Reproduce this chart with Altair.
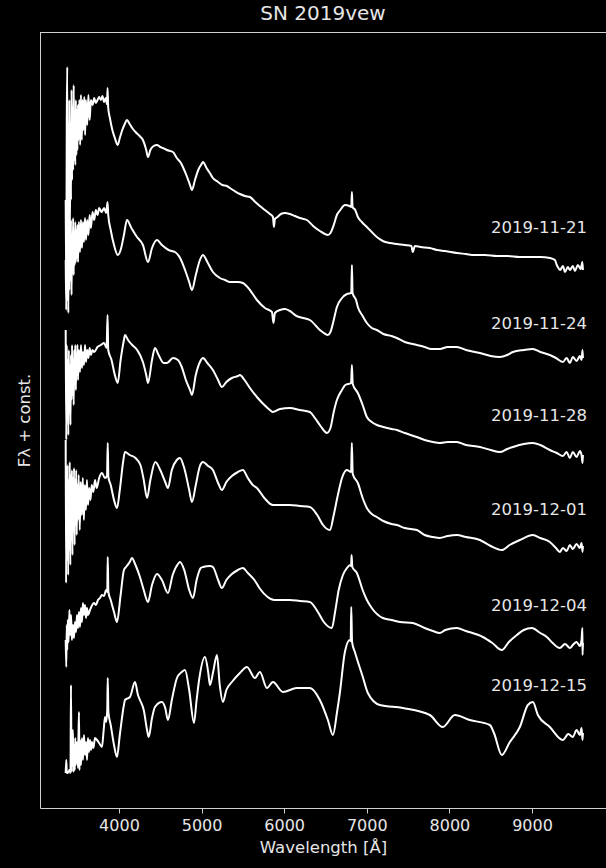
import altair as alt
import pandas as pd

# ---- data (wavelength in Angstrom, normalised flux before offset) ----
dates = ["2019-11-21", "2019-11-24", "2019-11-28", "2019-12-01", "2019-12-04", "2019-12-15"]
offsets = [5, 4, 3, 2, 1, 0]
label_wave = [9666, 9666, 9666, 9666, 9666, 9666]
label_flux = [5.80, 4.84, 3.92, 2.98, 2.02, 1.22]
x_ticks = [4000, 5000, 6000, 7000, 8000, 9000]

spec_1121 = [
    (3355, 1.08), (3362, 0.18), (3368, 1.88), (3374, 2.41), (3380, 0.48), (3387, 1.58), (3393, 0.68),
    (3400, 2.08), (3406, 0.78), (3413, 1.78), (3419, 1.08), (3426, 2.18), (3432, 1.28), (3439, 1.98),
    (3445, 1.38), (3452, 2.23), (3458, 1.48), (3465, 1.88), (3471, 1.43), (3478, 2.08), (3484, 1.53),
    (3491, 1.98), (3497, 1.58), (3504, 2.03), (3510, 1.68), (3520, 2.08), (3530, 1.63), (3540, 2.13),
    (3550, 1.68), (3560, 2.08), (3570, 1.78), (3580, 2.11), (3590, 1.73), (3600, 2.08), (3615, 1.83),
    (3630, 2.13), (3645, 1.88), (3660, 2.08), (3680, 2.03), (3700, 2.10), (3720, 2.05), (3740, 2.08),
    (3760, 2.11), (3780, 2.08), (3800, 2.12), (3820, 2.06), (3840, 2.10), (3855, 2.04), (3862, 2.20),
    (3870, 2.00), (3890, 1.90), (3920, 1.78), (3950, 1.70), (3985, 1.63), (4010, 1.70), (4040, 1.78),
    (4070, 1.84), (4097, 1.88), (4130, 1.84), (4160, 1.80), (4200, 1.76), (4250, 1.72), (4290, 1.68),
    (4330, 1.58), (4351, 1.51), (4380, 1.58), (4420, 1.62), (4460, 1.63), (4500, 1.61), (4530, 1.60),
    (4580, 1.58), (4654, 1.56), (4700, 1.50), (4750, 1.45), (4774, 1.41), (4820, 1.32), (4860, 1.23),
    (4883, 1.18), (4920, 1.28), (4960, 1.38), (5000, 1.44), (5017, 1.46), (5060, 1.40), (5100, 1.35),
    (5137, 1.30), (5200, 1.26), (5250, 1.23), (5307, 1.22), (5343, 1.20), (5400, 1.17), (5464, 1.14),
    (5525, 1.12), (5585, 1.11), (5650, 1.06), (5706, 1.02), (5767, 0.98), (5827, 0.94), (5864, 0.91),
    (5876, 0.81), (5888, 0.89), (5920, 0.91), (5960, 0.94), (6009, 0.95), (6069, 0.94), (6130, 0.92),
    (6190, 0.90), (6275, 0.88), (6350, 0.82), (6432, 0.77), (6493, 0.74), (6529, 0.73), (6560, 0.75),
    (6600, 0.83), (6638, 0.93), (6680, 0.98), (6735, 1.03), (6790, 1.02), (6812, 1.01), (6820, 1.16),
    (6828, 1.01), (6860, 0.98), (6892, 0.91), (6940, 0.86), (7001, 0.81), (7060, 0.76), (7122, 0.71),
    (7194, 0.67), (7279, 0.65), (7364, 0.64), (7460, 0.63), (7540, 0.62), (7557, 0.56), (7582, 0.62),
    (7650, 0.61), (7763, 0.60), (7850, 0.58), (7950, 0.57), (8090, 0.55), (8200, 0.54), (8300, 0.53),
    (8430, 0.53), (8575, 0.52), (8700, 0.52), (8850, 0.51), (8974, 0.51), (9100, 0.51), (9216, 0.50),
    (9277, 0.48), (9300, 0.43), (9313, 0.41), (9340, 0.38), (9374, 0.42), (9400, 0.36), (9434, 0.41),
    (9460, 0.38), (9494, 0.42), (9520, 0.37), (9555, 0.43), (9590, 0.39), (9610, 0.46), (9617, 0.38),
]

spec_1124 = [
    (3355, 1.48), (3362, 0.98), (3368, 1.93), (3374, 1.08), (3380, 1.68), (3387, 0.95), (3393, 1.83),
    (3400, 1.18), (3406, 1.78), (3413, 1.28), (3419, 1.88), (3426, 1.13), (3432, 1.73), (3439, 1.38),
    (3445, 1.90), (3452, 1.33), (3458, 1.76), (3465, 1.43), (3471, 1.86), (3478, 1.46), (3484, 1.78),
    (3491, 1.50), (3497, 1.83), (3504, 1.46), (3515, 1.86), (3528, 1.56), (3540, 1.88), (3552, 1.60),
    (3564, 1.86), (3576, 1.66), (3589, 1.90), (3601, 1.68), (3615, 1.88), (3630, 1.73), (3645, 1.93),
    (3660, 1.80), (3680, 1.96), (3700, 1.88), (3720, 1.98), (3740, 1.93), (3760, 2.00), (3790, 1.96),
    (3820, 2.00), (3845, 1.95), (3862, 2.06), (3870, 1.93), (3900, 1.78), (3940, 1.63), (3985, 1.53),
    (4020, 1.58), (4060, 1.73), (4097, 1.88), (4150, 1.80), (4218, 1.71), (4290, 1.63), (4351, 1.46),
    (4400, 1.60), (4460, 1.68), (4520, 1.63), (4600, 1.58), (4678, 1.56), (4740, 1.50), (4800, 1.38),
    (4850, 1.26), (4883, 1.18), (4930, 1.33), (4980, 1.48), (5017, 1.53), (5070, 1.46), (5137, 1.36),
    (5222, 1.30), (5283, 1.28), (5343, 1.26), (5440, 1.26), (5500, 1.25), (5585, 1.18), (5670, 1.08),
    (5767, 1.00), (5852, 0.96), (5870, 0.85), (5888, 0.95), (5950, 0.98), (6009, 0.99), (6069, 0.97),
    (6150, 0.92), (6230, 0.90), (6311, 0.88), (6432, 0.78), (6500, 0.74), (6529, 0.73), (6560, 0.76),
    (6600, 0.88), (6638, 1.01), (6700, 1.10), (6760, 1.14), (6812, 1.15), (6820, 1.43), (6828, 1.15),
    (6870, 1.08), (6892, 1.01), (6950, 0.92), (7001, 0.85), (7060, 0.80), (7122, 0.78), (7200, 0.74),
    (7300, 0.72), (7364, 0.70), (7460, 0.66), (7606, 0.63), (7700, 0.61), (7780, 0.59), (7884, 0.59),
    (7980, 0.61), (8090, 0.61), (8200, 0.58), (8369, 0.55), (8500, 0.52), (8611, 0.51), (8700, 0.53),
    (8769, 0.56), (8900, 0.58), (9011, 0.59), (9100, 0.56), (9216, 0.53), (9290, 0.50), (9374, 0.46),
    (9420, 0.50), (9458, 0.45), (9494, 0.51), (9540, 0.47), (9580, 0.52), (9600, 0.48), (9612, 0.58),
    (9617, 0.50),
]

spec_1128 = [
    (3355, 1.78), (3362, 0.68), (3368, 1.63), (3374, 0.88), (3380, 1.48), (3387, 0.73), (3393, 1.58),
    (3400, 0.98), (3406, 1.43), (3413, 0.83), (3419, 1.53), (3426, 1.08), (3432, 1.63), (3439, 1.13),
    (3445, 1.48), (3452, 1.03), (3458, 1.58), (3465, 1.23), (3471, 1.63), (3478, 1.18), (3484, 1.53),
    (3491, 1.33), (3497, 1.63), (3504, 1.28), (3515, 1.58), (3528, 1.36), (3540, 1.63), (3552, 1.40),
    (3564, 1.56), (3576, 1.43), (3589, 1.63), (3601, 1.46), (3615, 1.58), (3630, 1.50), (3645, 1.60),
    (3660, 1.53), (3680, 1.58), (3700, 1.56), (3740, 1.61), (3780, 1.63), (3820, 1.65), (3850, 1.60),
    (3862, 1.93), (3870, 1.58), (3910, 1.48), (3950, 1.33), (3985, 1.25), (4020, 1.48), (4060, 1.68),
    (4073, 1.73), (4110, 1.68), (4160, 1.63), (4220, 1.58), (4290, 1.46), (4330, 1.33), (4351, 1.25),
    (4400, 1.48), (4436, 1.60), (4480, 1.53), (4540, 1.45), (4581, 1.45), (4654, 1.50), (4714, 1.48),
    (4760, 1.41), (4810, 1.28), (4860, 1.18), (4883, 1.13), (4930, 1.33), (4980, 1.46), (5017, 1.50),
    (5070, 1.45), (5137, 1.38), (5200, 1.28), (5246, 1.21), (5300, 1.26), (5367, 1.30), (5440, 1.32),
    (5464, 1.33), (5520, 1.28), (5585, 1.20), (5670, 1.11), (5760, 1.03), (5827, 0.98), (5864, 0.96),
    (5950, 0.99), (6069, 1.00), (6190, 0.98), (6311, 0.96), (6372, 0.90), (6440, 0.82), (6517, 0.75),
    (6560, 0.80), (6600, 0.96), (6638, 1.08), (6700, 1.18), (6740, 1.23), (6810, 1.25), (6820, 1.43),
    (6830, 1.24), (6892, 1.15), (6950, 1.03), (7001, 0.91), (7060, 0.86), (7122, 0.83), (7200, 0.81),
    (7300, 0.79), (7364, 0.78), (7460, 0.75), (7606, 0.71), (7700, 0.68), (7800, 0.66), (7884, 0.65),
    (7980, 0.66), (8090, 0.66), (8200, 0.63), (8369, 0.61), (8500, 0.58), (8611, 0.56), (8700, 0.59),
    (8769, 0.61), (8900, 0.64), (9011, 0.65), (9100, 0.63), (9216, 0.58), (9300, 0.55), (9374, 0.52),
    (9420, 0.56), (9458, 0.50), (9494, 0.56), (9540, 0.51), (9580, 0.57), (9600, 0.53), (9612, 0.45),
    (9617, 0.53),
]

spec_1201 = [
    (3355, 1.68), (3360, 0.25), (3366, 1.38), (3372, 0.48), (3378, 1.43), (3385, 0.33), (3391, 1.28),
    (3398, 0.58), (3404, 1.46), (3411, 0.43), (3417, 1.33), (3424, 0.68), (3430, 1.38), (3437, 0.53),
    (3443, 1.30), (3450, 0.78), (3456, 1.40), (3463, 0.63), (3469, 1.28), (3476, 0.83), (3482, 1.38),
    (3489, 0.73), (3495, 1.23), (3502, 0.88), (3512, 1.33), (3525, 0.78), (3537, 1.26), (3550, 0.93),
    (3562, 1.30), (3575, 0.88), (3587, 1.23), (3600, 0.98), (3612, 1.28), (3625, 1.03), (3640, 1.20),
    (3655, 1.08), (3670, 1.23), (3690, 1.16), (3710, 1.28), (3730, 1.20), (3760, 1.30), (3794, 1.35),
    (3830, 1.30), (3855, 1.32), (3864, 1.65), (3872, 1.31), (3900, 1.23), (3940, 1.08), (3976, 1.00),
    (4010, 1.18), (4050, 1.46), (4073, 1.56), (4130, 1.53), (4200, 1.50), (4260, 1.43), (4300, 1.28),
    (4340, 1.10), (4380, 1.28), (4440, 1.46), (4500, 1.38), (4560, 1.26), (4593, 1.20), (4640, 1.38),
    (4700, 1.48), (4738, 1.50), (4790, 1.40), (4850, 1.18), (4883, 1.06), (4930, 1.23), (4980, 1.42),
    (5017, 1.46), (5080, 1.42), (5137, 1.38), (5200, 1.25), (5246, 1.18), (5300, 1.26), (5367, 1.32),
    (5440, 1.36), (5500, 1.38), (5560, 1.30), (5620, 1.23), (5670, 1.20), (5760, 1.10), (5864, 1.03),
    (5950, 1.03), (6069, 1.03), (6190, 1.02), (6311, 1.01), (6400, 0.93), (6470, 0.83), (6553, 0.78),
    (6600, 0.93), (6650, 1.13), (6700, 1.30), (6759, 1.38), (6810, 1.36), (6819, 1.65), (6830, 1.34),
    (6892, 1.25), (6950, 1.10), (7001, 1.00), (7060, 0.94), (7122, 0.91), (7200, 0.87), (7300, 0.84),
    (7364, 0.83), (7460, 0.80), (7606, 0.78), (7700, 0.73), (7800, 0.71), (7884, 0.70), (7980, 0.72),
    (8090, 0.73), (8200, 0.71), (8369, 0.68), (8500, 0.62), (8635, 0.58), (8730, 0.63), (8853, 0.68),
    (9011, 0.73), (9100, 0.70), (9216, 0.66), (9290, 0.60), (9337, 0.56), (9374, 0.60), (9420, 0.57),
    (9458, 0.63), (9494, 0.59), (9540, 0.64), (9580, 0.60), (9600, 0.65), (9612, 0.56), (9617, 0.62),
]

spec_1204 = [
    (3355, 0.68), (3362, 0.41), (3368, 0.83), (3374, 0.58), (3380, 0.88), (3390, 0.66), (3400, 0.98),
    (3410, 0.73), (3420, 0.93), (3430, 0.68), (3443, 0.83), (3455, 0.70), (3467, 0.86), (3480, 0.76),
    (3492, 0.93), (3504, 0.80), (3516, 0.96), (3528, 0.81), (3540, 1.00), (3552, 0.86), (3564, 1.05),
    (3576, 0.93), (3589, 1.03), (3601, 0.90), (3613, 1.00), (3625, 0.93), (3649, 0.98), (3670, 1.02),
    (3697, 1.05), (3720, 1.03), (3746, 1.08), (3770, 1.10), (3794, 1.13), (3818, 1.12), (3845, 1.18),
    (3858, 1.16), (3864, 1.51), (3872, 1.16), (3900, 1.08), (3940, 0.96), (3976, 0.86), (4020, 1.13),
    (4060, 1.38), (4085, 1.41), (4130, 1.46), (4157, 1.50), (4200, 1.43), (4254, 1.31), (4300, 1.18),
    (4351, 1.06), (4400, 1.23), (4460, 1.34), (4520, 1.28), (4593, 1.15), (4650, 1.33), (4714, 1.44),
    (4738, 1.46), (4790, 1.38), (4850, 1.18), (4896, 1.10), (4940, 1.28), (4990, 1.40), (5017, 1.41),
    (5100, 1.42), (5137, 1.41), (5200, 1.28), (5246, 1.20), (5300, 1.28), (5367, 1.34), (5440, 1.38),
    (5500, 1.40), (5560, 1.35), (5640, 1.28), (5700, 1.20), (5800, 1.11), (5880, 1.08), (5990, 1.08),
    (6069, 1.08), (6190, 1.07), (6311, 1.06), (6408, 0.96), (6480, 0.86), (6577, 0.80), (6620, 0.98),
    (6660, 1.18), (6711, 1.33), (6760, 1.40), (6800, 1.43), (6810, 1.42), (6816, 1.53), (6825, 1.41),
    (6880, 1.35), (6950, 1.18), (7001, 1.08), (7060, 1.00), (7194, 0.90), (7300, 0.88), (7400, 0.86),
    (7557, 0.85), (7700, 0.80), (7800, 0.77), (7884, 0.75), (7950, 0.78), (8090, 0.80), (8200, 0.77),
    (8405, 0.71), (8520, 0.65), (8635, 0.58), (8720, 0.66), (8817, 0.73), (8900, 0.78), (8999, 0.80),
    (9100, 0.75), (9180, 0.71), (9250, 0.65), (9337, 0.60), (9400, 0.64), (9460, 0.60), (9494, 0.63),
    (9540, 0.66), (9580, 0.62), (9600, 0.68), (9610, 0.80), (9612, 0.53), (9617, 0.65),
]

spec_1215 = [
    (3355, 0.35), (3362, 0.48), (3368, 0.35), (3380, 0.35), (3400, 0.38), (3413, 0.35), (3419, 1.23),
    (3426, 0.36), (3432, 0.68), (3443, 0.78), (3450, 0.36), (3458, 0.63), (3465, 0.38), (3471, 0.70),
    (3478, 0.43), (3491, 0.66), (3504, 0.40), (3510, 0.73), (3516, 0.96), (3522, 0.38), (3530, 0.68),
    (3540, 0.43), (3552, 0.70), (3564, 0.48), (3576, 0.73), (3589, 0.53), (3601, 0.66), (3613, 0.48),
    (3625, 0.70), (3637, 0.56), (3649, 0.68), (3661, 0.58), (3673, 0.66), (3690, 0.60), (3710, 0.70),
    (3734, 0.68), (3760, 0.65), (3794, 0.61), (3815, 0.78), (3831, 0.91), (3845, 0.86), (3858, 0.98),
    (3864, 1.30), (3872, 0.96), (3900, 0.83), (3940, 0.63), (3976, 0.51), (4010, 0.73), (4060, 1.03),
    (4073, 1.08), (4133, 1.11), (4194, 1.26), (4230, 1.13), (4254, 1.08), (4300, 0.98), (4340, 0.78),
    (4360, 0.71), (4400, 0.90), (4436, 1.01), (4520, 1.06), (4560, 1.00), (4593, 0.88), (4640, 1.08),
    (4702, 1.30), (4760, 1.36), (4799, 1.38), (4850, 1.18), (4908, 0.85), (4940, 1.08), (4970, 1.28),
    (5041, 1.51), (5080, 1.36), (5101, 1.23), (5140, 1.36), (5186, 1.53), (5220, 1.23), (5258, 1.06),
    (5300, 1.18), (5367, 1.26), (5464, 1.35), (5549, 1.41), (5646, 1.30), (5706, 1.36), (5791, 1.20),
    (5864, 1.26), (5985, 1.16), (6154, 1.20), (6311, 1.20), (6432, 1.08), (6529, 0.88), (6590, 0.73),
    (6640, 0.96), (6674, 1.15), (6735, 1.56), (6795, 1.68), (6805, 1.67), (6812, 2.01), (6822, 1.66),
    (6856, 1.56), (6952, 1.31), (7013, 1.15), (7158, 1.03), (7437, 1.00), (7763, 0.93), (7920, 0.81),
    (8066, 0.93), (8247, 0.88), (8490, 0.83), (8540, 0.75), (8635, 0.53), (8732, 0.66), (8853, 0.81),
    (8950, 1.03), (9011, 1.06), (9071, 0.93), (9216, 0.81), (9374, 0.68), (9440, 0.74), (9494, 0.71),
    (9540, 0.78), (9580, 0.73), (9600, 0.80), (9612, 0.68), (9617, 0.75),
]

spectra = [spec_1121, spec_1124, spec_1128, spec_1201, spec_1204, spec_1215]

# ---- build tables ----
rows = []
for date, off, spec in zip(dates, offsets, spectra):
    for i, (w, f) in enumerate(spec):
        rows.append({"date": date, "wave": w, "flux": f + off, "idx": i})
lines_df = pd.DataFrame(rows)
labels_df = pd.DataFrame({"date": dates, "wave": label_wave, "flux": label_flux})

W, H = 566, 776
FONT = "DejaVu Sans"
FG = "#e6e6e6"
SPINE = "#d0d0d0"

x_scale = alt.Scale(domain=[3044, 9896], nice=False, zero=False)
y_scale = alt.Scale(domain=[0, 7.76], nice=False, zero=False)

lines = alt.Chart(lines_df).mark_line(color="white", strokeWidth=2, clip=True,
                                      interpolate="monotone").encode(
    x=alt.X("wave:Q", scale=x_scale,
            axis=alt.Axis(values=x_ticks, format="d", title="Wavelength [Å]", grid=False,
                          labelFont=FONT, labelFontSize=16, labelColor=FG, labelPadding=4,
                          tickSize=5, tickColor=SPINE, domainColor=SPINE, tickWidth=1, domainWidth=1,
                          titleFont=FONT, titleFontSize=16.5, titleFontWeight="normal",
                          titleColor=FG, titlePadding=6)),
    y=alt.Y("flux:Q", scale=y_scale,
            axis=alt.Axis(labels=False, ticks=False, grid=False, title="Fλ + const.",
                          domainColor=SPINE, domainWidth=1,
                          titleFont=FONT, titleFontSize=16.5, titleFontWeight="normal",
                          titleColor=FG, titlePadding=8)),
    detail="date:N",
    order="idx:Q",
)

texts = alt.Chart(labels_df).mark_text(align="right", baseline="middle", font=FONT,
                                       fontSize=16.5, color=FG).encode(
    x=alt.X("wave:Q", scale=x_scale),
    y=alt.Y("flux:Q", scale=y_scale),
    text="date:N",
)

top_border = alt.Chart(pd.DataFrame({"a": [0]})).mark_rule(color=SPINE, strokeWidth=1).encode(
    x=alt.value(0), x2=alt.value(W), y=alt.value(0.5)
)

chart = alt.layer(lines, texts, top_border).properties(
    width=W, height=H,
    title=alt.TitleParams("SN 2019vew", font=FONT, fontSize=20, fontWeight="normal",
                          color=FG, anchor="middle", offset=8),
    autosize=alt.AutoSizeParams(type="none"),
    padding={"left": 40, "top": 32, "right": 0, "bottom": 60},
).configure(background="black").configure_view(strokeWidth=0)

chart.save("out.html", embed_options={"renderer": "svg", "actions": False})
